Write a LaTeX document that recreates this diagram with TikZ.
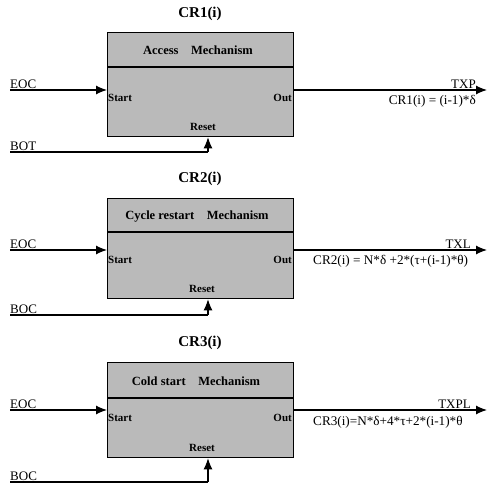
\documentclass[tikz,border=0pt]{standalone}
\usepackage{fontspec}
\setmainfont{Liberation Serif}
\usetikzlibrary{arrows.meta}
\begin{document}
\begin{tikzpicture}[x=1pt,y=-1pt,
  box/.style={draw, line width=1.3pt, fill=black!27, minimum width=186pt, anchor=north west, inner sep=0pt},
  divider/.style={line width=1.3pt},
  arr/.style={line width=1.1pt, -{Latex[length=11pt,width=9pt]}},
  wire/.style={line width=1.1pt},
  title/.style={font=\bfseries\fontsize{15}{17}\selectfont, inner sep=0pt},
  hdr/.style={font=\bfseries\fontsize{12.5}{14}\selectfont, inner sep=0pt},
  inlbl/.style={font=\bfseries\fontsize{11}{13}\selectfont, inner sep=1pt},
  lbl/.style={font=\fontsize{13}{15}\selectfont, inner sep=1pt},
  frm/.style={font=\fontsize{13.2}{15}\selectfont, inner sep=0pt}]
\useasboundingbox (0,0) rectangle (488,487);

% ---------- block 1 ----------
\node[title] (t1) at (200,14) {CR1(i)};
\node[box, minimum height=104pt] (b1) at (107,32) {};
\draw[divider] ([yshift=-35pt]b1.north west) -- ([yshift=-35pt]b1.north east);
\node[hdr] (h1) at (198,50) {Access\quad Mechanism};
\node[inlbl, anchor=west] (s1) at (107,98) {Start};
\node[inlbl, anchor=east] (u1) at (293,98) {Out};
\node[inlbl] (re1) at (203,127) {Reset};
\coordinate (e1) at (10,90);
\coordinate (o1) at (487,90);
\coordinate (r1) at (10,152);
\coordinate (rc1) at (208,152);
\draw[arr] (e1) -- (e1 -| b1.west);
\draw[arr] (o1 -| b1.east) -- (o1);
\draw[wire] (r1) -- (rc1);
\draw[arr] (rc1) -- (rc1 |- b1.south);
\node[lbl, anchor=south west] (le1) at (9,90) {EOC};
\node[lbl, anchor=south west] (lb1) at (9,152) {BOT};
\node[lbl, anchor=south east] (lt1) at (477,90) {TXP};
\node[frm, anchor=north east] (f1) at (476,95) {CR1(i) = (i-1)*δ};

% ---------- block 2 ----------
\node[title] (t2) at (200,179) {CR2(i)};
\node[box, minimum height=100pt] (b2) at (107,198) {};
\draw[divider] ([yshift=-34pt]b2.north west) -- ([yshift=-34pt]b2.north east);
\node[hdr] (h2) at (197,217) {Cycle restart\quad Mechanism};
\node[inlbl, anchor=west] (s2) at (107,260) {Start};
\node[inlbl, anchor=east] (u2) at (293,260) {Out};
\node[inlbl] (re2) at (202,289) {Reset};
\coordinate (e2) at (10,250);
\coordinate (o2) at (487,250);
\coordinate (r2) at (10,315);
\coordinate (rc2) at (208,315);
\draw[arr] (e2) -- (e2 -| b2.west);
\draw[arr] (o2 -| b2.east) -- (o2);
\draw[wire] (r2) -- (rc2);
\draw[arr] (rc2) -- (rc2 |- b2.south);
\node[lbl, anchor=south west] (le2) at (9,250) {EOC};
\node[lbl, anchor=south west] (lb2) at (9,315) {BOC};
\node[lbl, anchor=south east] (lt2) at (472,250) {TXL};
\node[frm, anchor=north west] (f2) at (313,255) {CR2(i) = N*δ +2*(τ+(i-1)*θ)};

% ---------- block 3 ----------
\node[title] (t3) at (200,343) {CR3(i)};
\node[box, minimum height=95pt] (b3) at (107,362) {};
\draw[divider] ([yshift=-36pt]b3.north west) -- ([yshift=-36pt]b3.north east);
\node[hdr] (h3) at (196,381) {Cold start\quad Mechanism};
\node[inlbl, anchor=west] (s3) at (107,418) {Start};
\node[inlbl, anchor=east] (u3) at (293,418) {Out};
\node[inlbl] (re3) at (202,448) {Reset};
\coordinate (e3) at (10,410);
\coordinate (o3) at (487,410);
\coordinate (r3) at (10,482);
\coordinate (rc3) at (208,482);
\draw[arr] (e3) -- (e3 -| b3.west);
\draw[arr] (o3 -| b3.east) -- (o3);
\draw[wire] (r3) -- (rc3);
\draw[arr] (rc3) -- (rc3 |- b3.south);
\node[lbl, anchor=south west] (le3) at (9,410) {EOC};
\node[lbl, anchor=south west] (lb3) at (9,482) {BOC};
\node[lbl, anchor=south east] (lt3) at (472,410) {TXPL};
\node[frm, anchor=north west] (f3) at (313,416) {CR3(i)=N*δ+4*τ+2*(i-1)*θ};
\end{tikzpicture}
\end{document}
